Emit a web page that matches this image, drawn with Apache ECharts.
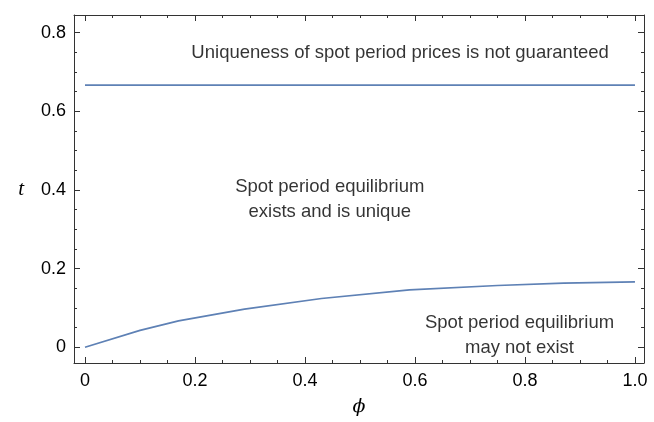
<!DOCTYPE html>
<html>
<head>
<meta charset="utf-8">
<script src="https://cdn.jsdelivr.net/npm/echarts@6/dist/echarts.min.js"></script>
<style>
html,body{margin:0;padding:0;background:#fff;}
#chart{width:654px;height:422px;}
</style>
</head>
<body>
<div id="chart"></div>
<script>
// ---- data ----
const phiValues = [0, 0.1, 0.17, 0.29, 0.43, 0.59, 0.75, 0.87, 1.0];
const lowerBound = [0, 0.043, 0.067, 0.097, 0.124, 0.146, 0.157, 0.163, 0.166];
const upperPhi = [0, 1.0];
const upperBound = [0.6667, 0.6667];

const xMajorTicks = [0, 0.2, 0.4, 0.6, 0.8, 1.0];
const xMinorTicks = [0.05, 0.1, 0.15, 0.25, 0.3, 0.35, 0.45, 0.5, 0.55, 0.65, 0.7, 0.75, 0.85, 0.9, 0.95];
const yMajorTicks = [0, 0.2, 0.4, 0.6, 0.8];
const yMinorTicks = [0.05, 0.1, 0.15, 0.25, 0.3, 0.35, 0.45, 0.5, 0.55, 0.65, 0.7, 0.75];
const xTickLabels = ['0', '0.2', '0.4', '0.6', '0.8', '1.0'];
const yTickLabels = ['0', '0.2', '0.4', '0.6', '0.8'];

const annotationText = [
  'Uniqueness of spot period prices is not guaranteed',
  'Spot period equilibrium\nexists and is unique',
  'Spot period equilibrium\nmay not exist'
];
const annotationPhi = [0.573, 0.445, 0.79];
const annotationT = [0.749, 0.377, 0.03];

// ---- chart ----
const FONT = 'Liberation Sans';
const frameColor = '#333';
const lineColor = '#5E81B5';
const xMin = -0.02, xMax = 1.0164, yMin = -0.0401, yMax = 0.845;

function lbl(values, labels) {
  return function (v) {
    for (let i = 0; i < values.length; i++) {
      if (Math.abs(values[i] - v) < 1e-9) return labels[i];
    }
    return '';
  };
}

function xAx(pos, major, showLabel, showLine) {
  return {
    type: 'value', position: pos, min: xMin, max: xMax, gridIndex: 0,
    axisLine: {show: showLine, onZero: false, lineStyle: {color: frameColor, width: 1}},
    axisTick: {show: true, inside: true, length: major ? 6 : 3,
      customValues: major ? xMajorTicks : xMinorTicks,
      lineStyle: {color: frameColor, width: 1}},
    axisLabel: {show: showLabel, customValues: xMajorTicks, formatter: lbl(xMajorTicks, xTickLabels),
      color: '#000', fontFamily: FONT, fontSize: 18, margin: 9},
    splitLine: {show: false},
    name: showLabel ? 'ϕ' : '', nameLocation: 'middle', nameGap: 35,
    nameTextStyle: {fontFamily: 'DejaVu Serif', fontStyle: 'italic', fontSize: 19, color: '#000'}
  };
}
function yAx(pos, major, showLabel, showLine) {
  return {
    type: 'value', position: pos, min: yMin, max: yMax, gridIndex: 0,
    axisLine: {show: showLine, onZero: false, lineStyle: {color: frameColor, width: 1}},
    axisTick: {show: true, inside: true, length: major ? 6 : 3,
      customValues: major ? yMajorTicks : yMinorTicks,
      lineStyle: {color: frameColor, width: 1}},
    axisLabel: {show: showLabel, customValues: yMajorTicks, formatter: lbl(yMajorTicks, yTickLabels),
      color: '#000', fontFamily: FONT, fontSize: 18, margin: 8},
    splitLine: {show: false},
    name: showLabel ? 't' : '', nameLocation: 'middle', nameGap: 50, nameRotate: 0,
    nameTextStyle: {fontFamily: 'Liberation Serif', fontStyle: 'italic', fontSize: 21, color: '#000'}
  };
}

const chart = echarts.init(document.getElementById('chart'), null, {renderer: 'canvas'});
chart.setOption({
  animation: false,
  backgroundColor: '#fff',
  grid: {left: 74, top: 15, right: 10, bottom: 54, containLabel: false},
  xAxis: [
    xAx('bottom', true, true, true),
    xAx('bottom', false, false, false),
    xAx('top', true, false, true),
    xAx('top', false, false, false)
  ],
  yAxis: [
    yAx('left', true, true, true),
    yAx('left', false, false, false),
    yAx('right', true, false, true),
    yAx('right', false, false, false)
  ],
  series: [
    {
      type: 'line', xAxisIndex: 0, yAxisIndex: 0, symbol: 'none', smooth: false,
      lineStyle: {color: lineColor, width: 1.7},
      data: upperPhi.map((p, i) => [p, upperBound[i]])
    },
    {
      type: 'line', xAxisIndex: 0, yAxisIndex: 0, symbol: 'none', smooth: false,
      lineStyle: {color: lineColor, width: 1.7},
      data: phiValues.map((p, i) => [p, lowerBound[i]])
    },
    {
      type: 'scatter', xAxisIndex: 0, yAxisIndex: 0, symbolSize: 0, silent: true,
      itemStyle: {color: '#000'},
      label: {show: true, position: 'inside', color: '#000', fontFamily: FONT, fontSize: 18.5,
        textBorderWidth: 0, lineHeight: 25, align: 'center', verticalAlign: 'middle',
        formatter: p => p.data.name},
      data: annotationText.map((t, i) => ({name: t, value: [annotationPhi[i], annotationT[i]]}))
    }
  ]
});
</script>
</body>
</html>
